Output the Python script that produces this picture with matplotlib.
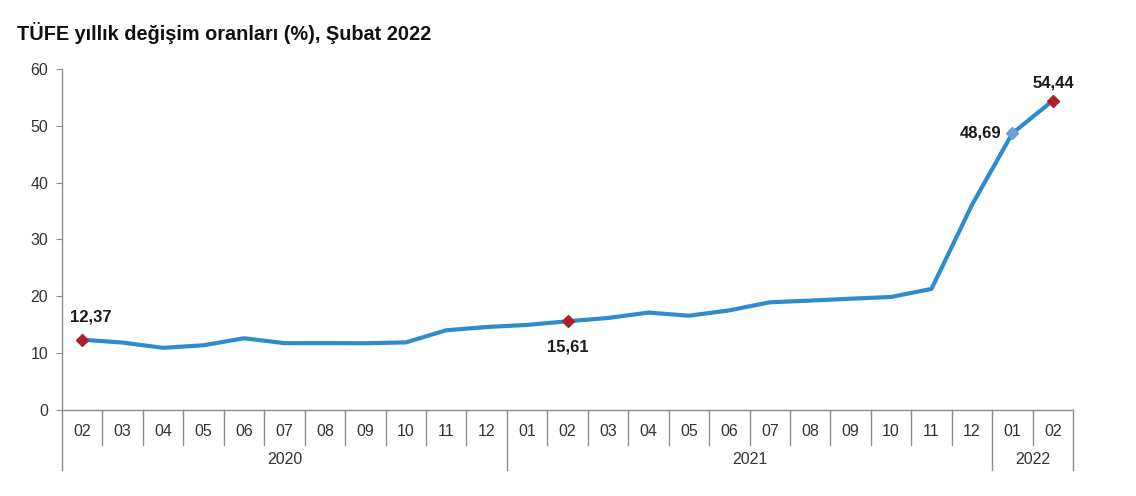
import matplotlib.pyplot as plt
import matplotlib.transforms as mtransforms

plt.rcParams['font.family'] = ['Liberation Sans', 'DejaVu Sans']

months = ['02', '03', '04', '05', '06', '07', '08', '09', '10', '11', '12',
          '01', '02', '03', '04', '05', '06', '07', '08', '09', '10', '11', '12',
          '01', '02']
years = ['2020', '2021', '2022']
year_counts = [11, 12, 2]
values = [12.37, 11.86, 10.94, 11.39, 12.62, 11.76, 11.77, 11.75, 11.89, 14.03, 14.60,
          14.97, 15.61, 16.19, 17.14, 16.59, 17.53, 18.95, 19.25, 19.58, 19.89, 21.31, 36.08,
          48.69, 54.44]
labelled = {0: (6, 11, 'center', 'bottom'),
            12: (0, -13, 'center', 'top'),
            23: (-8, 0, 'right', 'center'),
            24: (0, 7, 'center', 'bottom')}
red_points = [0, 12, 24]
light_points = [23]

line_col = '#2f8ccc'
grey = '#8c8c8c'

fig = plt.figure(figsize=(11.36, 4.96), dpi=100)
ax = fig.add_axes([0.0546, 0.1734, 0.89, 0.6875])

x = list(range(len(values)))
ax.plot(x, values, color=line_col, lw=3, solid_capstyle='round', zorder=3)
ax.plot([x[i] for i in red_points], [values[i] for i in red_points], 'D',
        color='#b0202a', ms=6, zorder=4)
ax.plot([x[i] for i in light_points], [values[i] for i in light_points], 'D',
        color='#6a9fd8', ms=6, zorder=4)

for i, (dx, dy, ha, va) in labelled.items():
    ax.annotate(f'{values[i]:.2f}'.replace('.', ','), (x[i], values[i]),
                xytext=(dx, dy), textcoords='offset points', ha=ha, va=va,
                fontsize=12, fontweight='bold', color='#1a1a1a')

ax.set_xlim(-0.5, len(values) - 0.5)
ax.set_ylim(0, 60)
ax.set_yticks(range(0, 61, 10))
ax.tick_params(axis='y', length=4, color=grey, labelsize=11.5, labelcolor='#333333', pad=6)
ax.set_xticks([])
for s in ['top', 'right']:
    ax.spines[s].set_visible(False)
for s in ['left', 'bottom']:
    ax.spines[s].set_color(grey)
    ax.spines[s].set_linewidth(1)

trans = mtransforms.blended_transform_factory(ax.transData, ax.transAxes)
px = 1 / (0.6875 * 496)
year_edges = [-0.5]
for c in year_counts:
    year_edges.append(year_edges[-1] + c)
for b in range(len(values) + 1):
    pos = b - 0.5
    low = -60 * px if pos in year_edges else -35 * px
    ax.plot([pos, pos], [0, low], color=grey, lw=1, transform=trans, clip_on=False)
for i, m in enumerate(months):
    ax.text(i, -22 * px, m, transform=trans, ha='center', va='center',
            fontsize=11.5, color='#333333')
for k, yr in enumerate(years):
    mid = (year_edges[k] + year_edges[k + 1]) / 2
    ax.text(mid, -50 * px, yr, transform=trans, ha='center', va='center',
            fontsize=11.5, color='#333333')

fig.text(0.015, 0.933, 'TÜFE yıllık değişim oranları (%), Şubat 2022',
         fontsize=14.3, fontweight='bold', color='#111111', va='center')

fig.savefig('out.png', dpi=100)
